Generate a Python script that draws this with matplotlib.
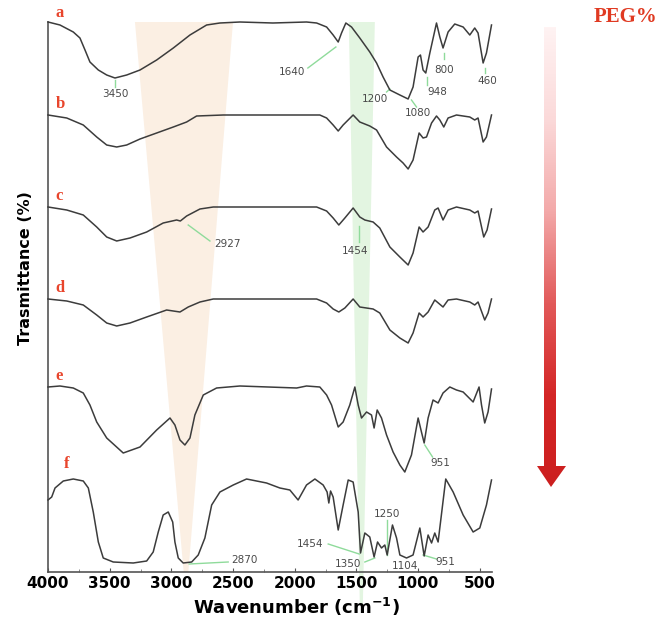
import matplotlib
matplotlib.use("Agg")
import matplotlib.pyplot as plt
import numpy as np
from matplotlib.colors import LinearSegmentedColormap
from matplotlib.patches import Polygon

# FTIR spectra, wavenumber (cm-1) and relative transmittance (a.u.)
WAVE_A = [4000, 3903, 3795, 3741, 3700, 3660, 3592, 3524, 3457, 3362, 3254, 3119, 2984,
          2849, 2714, 2606, 2444, 2177, 1904, 1822, 1741, 1688, 1647, 1620, 1585, 1539,
          1472, 1391, 1336, 1283, 1228, 1147, 1080, 1040, 999, 980, 959, 937, 904, 850,
          823, 797, 756, 702, 634, 580, 540, 513, 472, 445, 404]
T_A = [0, -3, -10, -16, -28, -40, -48, -53, -56, -53, -48, -38, -26, -13, -3, -1, 0, -1,
       0, -1, -5, -13, -20, -11, -1, -5, -16, -30, -41, -55, -68, -73, -77, -65, -35, -33,
       -48, -51, -31, -1, -15, -26, -10, -2, -5, -13, -6, -11, -41, -31, -3]

WAVE_B = [4000, 3848, 3714, 3605, 3524, 3443, 3362, 3254, 3119, 2984, 2876, 2795, 2579,
          2174, 1796, 1741, 1688, 1647, 1607, 1526, 1472, 1391, 1336, 1255, 1174, 1121,
          1080, 1040, 991, 959, 931, 890, 850, 823, 791, 756, 688, 580, 540, 513, 472,
          445, 404]
T_B = [0, -3, -10, -22, -30, -32, -30, -24, -18, -12, -7, -1, 0, 0, 0, -3, -10, -16, -10,
       0, -7, -11, -15, -32, -42, -48, -54, -45, -18, -23, -22, -8, -1, -5, -12, -3, 0,
       -2, -5, -3, -27, -22, 0]

WAVE_C = [4000, 3848, 3714, 3605, 3524, 3443, 3335, 3200, 3066, 2957, 2927, 2876, 2768,
          2660, 2174, 1822, 1741, 1688, 1642, 1593, 1526, 1472, 1431, 1364, 1310, 1228,
          1147, 1080, 1040, 991, 959, 918, 864, 837, 797, 756, 688, 580, 540, 513, 467,
          440, 404]
T_C = [0, -3, -8, -20, -30, -34, -31, -25, -16, -13, -14, -9, -2, 0, 0, 0, -4, -11, -18,
       -11, -1, -10, -13, -15, -21, -40, -50, -58, -46, -20, -25, -20, -3, -1, -13, -3, 0,
       -3, -6, -4, -30, -23, -2]

WAVE_D = [4000, 3848, 3714, 3605, 3524, 3443, 3335, 3200, 3038, 2930, 2863, 2768, 2660,
          1822, 1741, 1688, 1642, 1593, 1526, 1472, 1364, 1310, 1228, 1147, 1080, 1040,
          991, 959, 918, 864, 797, 756, 688, 580, 540, 513, 459, 432, 404]
T_D = [0, -2, -6, -16, -24, -27, -24, -18, -11, -13, -8, -3, 0, 0, -4, -10, -13, -9, 0,
       -8, -10, -14, -31, -39, -44, -34, -14, -18, -13, -1, -8, -1, 0, -3, -6, -3, -21,
       -14, 0]

WAVE_E = [4000, 3903, 3795, 3714, 3660, 3605, 3524, 3390, 3254, 3119, 3011, 2971, 2930,
          2890, 2849, 2809, 2741, 2633, 2444, 1984, 1904, 1796, 1741, 1701, 1647, 1607,
          1553, 1512, 1485, 1458, 1417, 1377, 1356, 1331, 1296, 1255, 1202, 1147, 1107,
          1053, 999, 972, 950, 918, 878, 837, 797, 742, 688, 634, 553, 505, 485, 459, 432,
          404]
T_E = [0, 1, -1, -6, -18, -35, -51, -66, -60, -43, -31, -38, -53, -58, -51, -28, -8, -1,
       1, -1, 1, 0, -8, -18, -40, -35, -18, 0, -18, -31, -25, -28, -41, -23, -31, -48,
       -65, -78, -85, -68, -31, -45, -56, -31, -13, -16, -6, 0, -3, -5, -15, 0, -18, -36,
       -25, -2]

WAVE_F = [4000, 3970, 3943, 3876, 3795, 3714, 3673, 3633, 3592, 3552, 3471, 3309, 3200,
          3147, 3106, 3066, 3025, 2989, 2971, 2944, 2904, 2835, 2782, 2728, 2673, 2606,
          2498, 2390, 2228, 2120, 2039, 1972, 1904, 1836, 1769, 1737, 1723, 1709, 1688,
          1647, 1607, 1566, 1526, 1485, 1466, 1431, 1391, 1356, 1328, 1296, 1269, 1250,
          1207, 1174, 1147, 1093, 1040, 985, 950, 918, 890, 864, 837, 775, 715, 634, 553,
          499, 445, 404]
T_F = [-20, -17, -8, -1, 1, -1, -8, -32, -62, -78, -82, -83, -81, -72, -52, -35, -32, -42,
       -62, -78, -83, -82, -75, -58, -25, -12, -5, 1, -3, -8, -10, -20, -5, 1, -5, -12,
       -23, -11, -17, -50, -25, 0, -2, -32, -73, -53, -57, -77, -62, -68, -65, -75, -45,
       -58, -75, -78, -75, -48, -76, -55, -63, -53, -62, 1, -12, -35, -52, -48, -25, 0]

SPECTRA = [(WAVE_A, T_A), (WAVE_B, T_B), (WAVE_C, T_C),
           (WAVE_D, T_D), (WAVE_E, T_E), (WAVE_F, T_F)]
OFFSETS = [550, 457, 365, 273, 185, 92]
SAMPLE_LABELS = ["a", "b", "c", "d", "e", "f"]
X_TICKS = [4000, 3500, 3000, 2500, 2000, 1500, 1000, 500]

# peak label, text position, leader line (wavenumber, height)
PEAKS = [
    ("3450", (3457, 478), [(3457, 492), (3457, 485)]),
    ("1640", (2020, 500), [(1893, 504), (1666, 525)]),
    ("1200", (1350, 473), [(1255, 480), (1228, 483)]),
    ("1080", (999, 459), [(1053, 472), (1012, 465)]),
    ("948", (845, 480), [(923, 495), (923, 487)]),
    ("800", (791, 502), [(791, 519), (791, 513)]),
    ("460", (437, 491), [(456, 504), (456, 499)]),
    ("2927", (2544, 328), [(2863, 347), (2687, 331)]),
    ("1454", (1512, 321), [(1477, 346), (1477, 330)]),
    ("951", (818, 109), [(945, 127), (882, 115)]),
    ("2870", (2404, 12), [(2855, 8), (2539, 10)]),
    ("1454", (1877, 28), [(1728, 28), (1477, 18)]),
    ("1350", (1566, 8), [(1431, 10), (1350, 14)]),
    ("1250", (1255, 58), [(1250, 52), (1250, 17)]),
    ("1104", (1107, 6), None),
    ("951", (777, 10), [(959, 17), (850, 13)]),
]

fig = plt.figure(figsize=(6.64, 6.19), dpi=100)
ax = fig.add_axes([48 / 664, 47 / 619, 444 / 664, 550 / 619])
ax.set_xlim(4000, 400)
ax.set_ylim(0, 550)

# shaded bands
ax.add_patch(Polygon([(3295, 550), (2500, 550), (2862, 0), (2900, 0)],
                     closed=True, fc="#fbefe3", ec="none", zorder=0))
ax.add_patch(Polygon([(1561, 550), (1350, 550), (1447, -32), (1472, -32)],
                     closed=True, fc="#e3f5e1", ec="none", zorder=0, clip_on=False))

for (w, t), off in zip(SPECTRA, OFFSETS):
    ax.plot(w, off + np.array(t), color="#3c3c3c", lw=1.1, clip_on=False, zorder=3)

for label, (tx, ty), line in PEAKS:
    if line is not None:
        (x1, y1), (x2, y2) = line
        ax.plot([x1, x2], [y1, y2], color="#8fdb9b", lw=1.0, zorder=2, clip_on=False)
    ax.text(tx, ty, label, fontsize=7.5, color="#4a4a4a", ha="center", va="center",
            zorder=4, clip_on=False)

for s in ["top", "right"]:
    ax.spines[s].set_visible(False)
for s in ["left", "bottom"]:
    ax.spines[s].set_color("#555555")
    ax.spines[s].set_linewidth(1.2)
ax.set_yticks([])
ax.set_xticks(X_TICKS)
ax.set_xticks(np.arange(3750, 400, -500), minor=True)
ax.tick_params(axis="x", direction="in", length=3, width=0.8, colors="#555555",
               labelcolor="black", labelsize=11, pad=3)
ax.tick_params(axis="x", which="minor", direction="in", length=2, width=0.6,
               colors="#777777")
for lab in ax.get_xticklabels():
    lab.set_fontweight("bold")

fig.text(296 / 664, 1 - 607 / 619, "Wavenumber (cm$^{\\mathbf{-1}}$)", fontsize=13,
         fontweight="bold", ha="center", va="center")
fig.text(25 / 664, 1 - 268 / 619, "Trasmittance (%)", fontsize=11.5, fontweight="bold",
         rotation=90, ha="center", va="center")

# overlay in pixel coordinates for labels and the arrow
ov = fig.add_axes([0, 0, 1, 1], zorder=5)
ov.set_xlim(0, 664)
ov.set_ylim(619, 0)
ov.axis("off")
ov.patch.set_alpha(0)

label_pos = [(60, 13), (60, 104), (59, 196), (60, 288), (59, 376), (67, 464)]
for lab, (x, y) in zip(SAMPLE_LABELS, label_pos):
    ov.text(x, y, lab, color="#e8452c", fontsize=12, fontweight="bold",
            family="Liberation Serif", ha="center", va="center")

ov.text(625, 17, "PEG%", color="#e03a22", fontsize=15, fontweight="bold",
        family="Liberation Serif", ha="center", va="center")

arrow = Polygon([(544, 27), (556, 27), (556, 466), (566, 466), (551, 487),
                 (537, 466), (544, 466)], closed=True, fc="none", ec="none")
ov.add_patch(arrow)
cmap = LinearSegmentedColormap.from_list(
    "peg", ["#fff3f3", "#fbd9d9", "#f3a9a9", "#e25a5a", "#d42626", "#cc1f1f"])
grad = np.linspace(0, 1, 256).reshape(-1, 1)
im = ov.imshow(grad, cmap=cmap, extent=(535, 568, 487, 27), origin="upper",
               aspect="auto", zorder=6)
im.set_clip_path(arrow)
ov.set_xlim(0, 664)
ov.set_ylim(619, 0)

fig.savefig("out.png", dpi=100)
